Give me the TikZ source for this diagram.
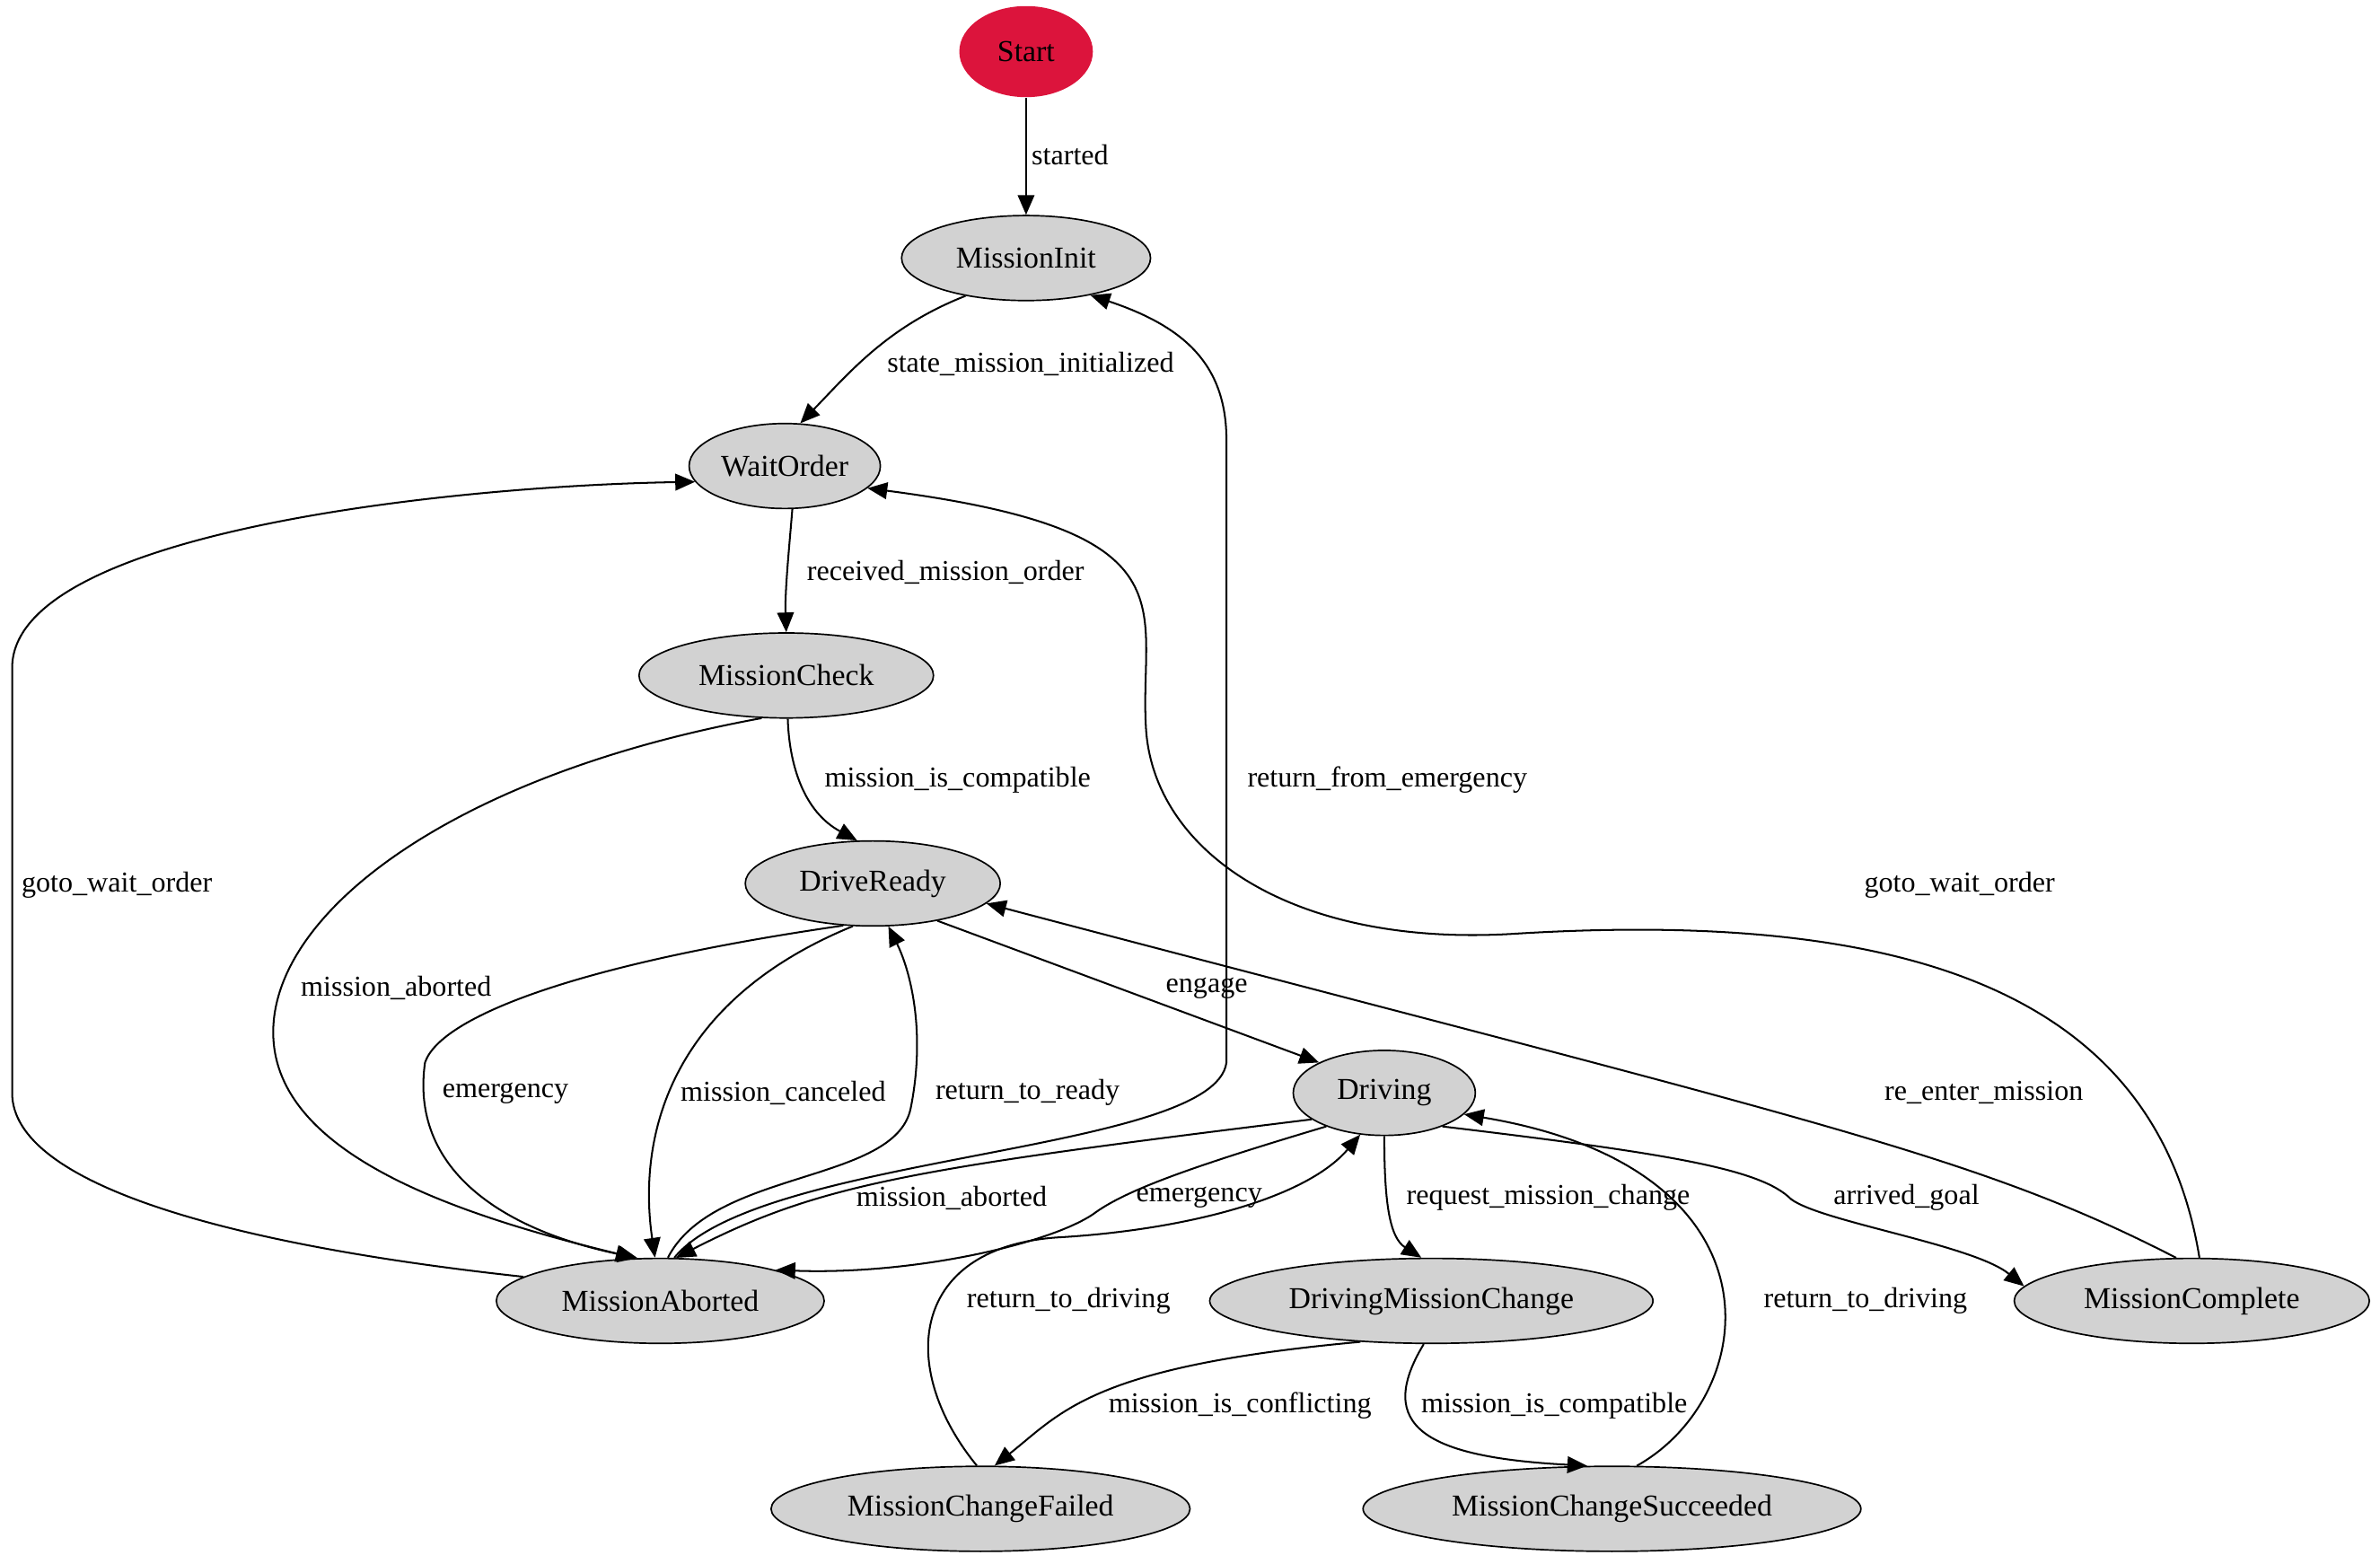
\documentclass[tikz,border=0pt]{standalone}
\usepackage{fontspec}
\setmainfont{Liberation Serif}
\usetikzlibrary{shapes.geometric,arrows.meta}
\begin{document}
\begin{tikzpicture}[x=1pt,y=-1pt,
 st/.style={ellipse,draw,fill=gray!35,line width=1pt,inner sep=0pt,minimum height=56pt,font=\fontsize{20}{24}\selectfont},
 lb/.style={font=\fontsize{19}{23}\selectfont,inner sep=1pt},
 e/.style={-{Triangle[length=13pt,width=11pt]},line width=1.2pt}]
\fill[white] (0,0) rectangle (1568,1030);
\useasboundingbox (0,0) rectangle (1568,1030);
\node[st,fill={rgb,255:red,220;green,20;blue,60},minimum width=88pt,minimum height=60pt,draw=none] (start) at (676,34) {Start};
\node[st,minimum width=164pt] (init) at (676,170) {MissionInit};
\node[st,minimum width=126pt] (wait) at (517,307) {WaitOrder};
\node[st,minimum width=194pt] (check) at (518,445) {MissionCheck};
\node[st,minimum width=168pt] (ready) at (575,582) {DriveReady};
\node[st,minimum width=120pt] (drv) at (912,720) {Driving};
\node[st,minimum width=216pt] (ab) at (435,857) {MissionAborted};
\node[st,minimum width=292pt] (dmc) at (943,857) {DrivingMissionChange};
\node[st,minimum width=234pt] (comp) at (1444,857) {MissionComplete};
\node[st,minimum width=276pt] (fail) at (646,994) {MissionChangeFailed};
\node[st,minimum width=328pt] (succ) at (1062,994) {MissionChangeSucceeded};

\draw[e] (start) -- (init);
\node[lb] at (705,102) {started};
\draw[e] (init.212) .. controls (585,215) and (560,245) .. (wait.70);
\node[lb] at (679,240) {state\_mission\_initialized};
\draw[e] (wait.-80) .. controls (520,360) and (517,390) .. (check.90);
\node[lb] at (623,377) {received\_mission\_order};
\draw[e] (check.-88) .. controls (520,505) and (530,535) .. (ready.110);
\node[lb] at (631,514) {mission\_is\_compatible};
\draw[e] (check.240) .. controls (300,510) and (180,600) .. (180,680) .. controls (180,760) and (300,800) .. (ab.120);
\node[lb] at (261,651) {mission\_aborted};
\draw[e] (ready.235) .. controls (380,635) and (290,670) .. (280,700) .. controls (270,770) and (330,810) .. (ab.118);
\node[lb] at (333,720) {emergency};
\draw[e] (ready.245) .. controls (440,660) and (420,750) .. (ab.97);
\node[lb] at (516,720) {mission\_canceled};
\draw[e] (ab.80) .. controls (470,770) and (590,780) .. (600,730) .. controls (610,680) and (600,640) .. (ready.-70);
\node[lb] at (677,720) {return\_to\_ready};
\draw[e] (ready.-30) -- (drv.155);
\node[lb] at (795,651) {engage};
\draw[e] (ab.72) .. controls (500,760) and (800,760) .. (808,700) -- (808,290) .. controls (808,240) and (780,215) .. (init.-30);
\node[lb] at (914,514) {return\_from\_emergency};
\draw[e] (drv.200) .. controls (600,770) and (540,780) .. (ab.70);
\node[lb] at (627,789) {mission\_aborted};
\draw[e] (drv.210) .. controls (780,770) and (740,785) .. (720,800) .. controls (690,820) and (600,840) .. (ab.15);
\node[lb] at (790,789) {emergency};
\draw[e] (drv.-90) .. controls (912,790) and (915,815) .. (dmc.103);
\node[lb] at (1020,789) {request\_mission\_change};
\draw[e] (drv.-30) .. controls (1100,760) and (1160,770) .. (1180,790) .. controls (1200,805) and (1300,820) .. (comp.175);
\node[lb] at (1256,789) {arrived\_goal};
\draw[e] (dmc.210) .. controls (720,900) and (700,930) .. (fail.72);
\node[lb] at (817,926) {mission\_is\_conflicting};
\draw[e] (dmc.-100) .. controls (905,940) and (940,960) .. (succ.120);
\node[lb] at (1024,926) {mission\_is\_compatible};
\draw[e] (fail.95) .. controls (590,900) and (600,820) .. (700,815) .. controls (780,810) and (860,790) .. (drv.240);
\node[lb] at (704,857) {return\_to\_driving};
\draw[e] (succ.60) .. controls (1160,920) and (1180,770) .. (drv.-15);
\node[lb] at (1229,857) {return\_to\_driving};
\draw[e] (comp.110) .. controls (1300,760) and (1200,740) .. (ready.-10);
\node[lb] at (1307,720) {re\_enter\_mission};
\draw[e] (comp.80) .. controls (1420,650) and (1250,600) .. (1000,615) .. controls (850,625) and (760,560) .. (755,480) .. controls (750,400) and (790,350) .. (wait.-15);
\node[lb] at (1291,583) {goto\_wait\_order};
\draw[e] (ab.170) .. controls (150,820) and (8,780) .. (8,720) -- (8,440) .. controls (8,350) and (300,320) .. (wait.190);
\node[lb] at (77,583) {goto\_wait\_order};
\end{tikzpicture}
\end{document}
